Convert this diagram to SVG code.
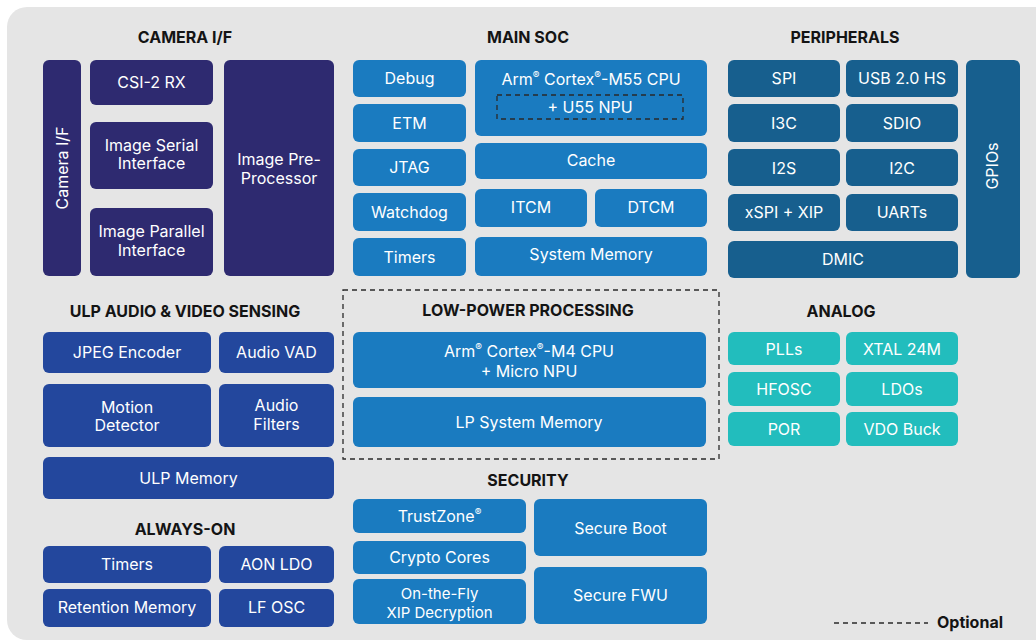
<svg xmlns="http://www.w3.org/2000/svg" width="1036" height="642" viewBox="0 0 1036 642">
<style>
.bx{rx:6px;ry:6px}
.cam{fill:#2e2a70}
.soc{fill:#1a7bc0}
.per{fill:#175f8e}
.ulp{fill:#23479d}
.ana{fill:#22bdbd}
.t{font-family:Inter,"Liberation Sans",sans-serif;font-size:16px;fill:#ffffff;text-anchor:middle}
.s{font-size:15px}
.h{font-family:Inter,"Liberation Sans",sans-serif;font-size:16px;font-weight:700;fill:#141414;text-anchor:middle}
.sup{font-size:10px;baseline-shift:super}
.dash{fill:none;stroke:#2a2a2a;stroke-width:1.3;stroke-dasharray:5 4}
</style>
<rect x="7" y="7" width="1060" height="633" rx="20" fill="#e5e5e5"/>

<text class="h" x="185" y="43">CAMERA I/F</text>
<text class="h" x="528" y="43">MAIN SOC</text>
<text class="h" x="845" y="43">PERIPHERALS</text>
<text class="h" x="185" y="317">ULP AUDIO &amp; VIDEO SENSING</text>
<text class="h" x="528" y="316">LOW-POWER PROCESSING</text>
<text class="h" x="841" y="317">ANALOG</text>
<text class="h" x="528" y="486">SECURITY</text>
<text class="h" x="185" y="535">ALWAYS-ON</text>

<g id="camera-if"><rect class="bx cam" x="43" y="60" width="38" height="216"/><text class="t" transform="translate(68,168) rotate(-90)">Camera I/F</text></g>
<g id="csi2rx"><rect class="bx cam" x="90" y="60" width="123" height="45"/><text class="t" x="151.5" y="88">CSI-2 RX</text></g>
<g id="image-serial"><rect class="bx cam" x="90" y="122" width="123" height="67"/><text class="t" x="151.5" y="151">Image Serial</text><text class="t" x="151.5" y="169">Interface</text></g>
<g id="image-parallel"><rect class="bx cam" x="90" y="208" width="123" height="68"/><text class="t" x="151.5" y="237">Image Parallel</text><text class="t" x="151.5" y="256">Interface</text></g>
<g id="image-preproc"><rect class="bx cam" x="224" y="60" width="110" height="216"/><text class="t" x="279" y="165">Image Pre-</text><text class="t" x="279" y="184">Processor</text></g>

<g id="debug"><rect class="bx soc" x="353" y="60" width="113" height="37"/><text class="t" x="409.5" y="84">Debug</text></g>
<g id="etm"><rect class="bx soc" x="353" y="104" width="113" height="38"/><text class="t" x="409.5" y="129">ETM</text></g>
<g id="jtag"><rect class="bx soc" x="353" y="149" width="113" height="37"/><text class="t" x="409.5" y="173">JTAG</text></g>
<g id="watchdog"><rect class="bx soc" x="353" y="193" width="113" height="38"/><text class="t" x="409.5" y="218">Watchdog</text></g>
<g id="timers-soc"><rect class="bx soc" x="353" y="238" width="113" height="38"/><text class="t" x="409.5" y="263">Timers</text></g>
<g id="m55"><rect class="bx soc" x="475" y="60" width="232" height="76"/><text class="t" x="591" y="85">Arm<tspan class="sup">®</tspan> Cortex<tspan class="sup">®</tspan>-M55 CPU</text><rect class="dash" x="497" y="95" width="186" height="24"/><text class="t" x="590" y="113">+ U55 NPU</text></g>
<g id="cache"><rect class="bx soc" x="475" y="143" width="232" height="36"/><text class="t" x="591" y="166">Cache</text></g>
<g id="itcm"><rect class="bx soc" x="475" y="189" width="112" height="38"/><text class="t" x="531" y="213">ITCM</text></g>
<g id="dtcm"><rect class="bx soc" x="595" y="189" width="112" height="38"/><text class="t" x="651" y="213">DTCM</text></g>
<g id="sysmem"><rect class="bx soc" x="475" y="237" width="232" height="39"/><text class="t" x="591" y="260">System Memory</text></g>

<g id="spi"><rect class="bx per" x="728" y="60" width="112" height="37"/><text class="t" x="784" y="84">SPI</text></g>
<g id="usb"><rect class="bx per" x="846" y="60" width="112" height="37"/><text class="t" x="902" y="84">USB 2.0 HS</text></g>
<g id="i3c"><rect class="bx per" x="728" y="104" width="112" height="38"/><text class="t" x="784" y="129">I3C</text></g>
<g id="sdio"><rect class="bx per" x="846" y="104" width="112" height="38"/><text class="t" x="902" y="129">SDIO</text></g>
<g id="i2s"><rect class="bx per" x="728" y="149" width="112" height="37"/><text class="t" x="784" y="174">I2S</text></g>
<g id="i2c"><rect class="bx per" x="846" y="149" width="112" height="37"/><text class="t" x="902" y="174">I2C</text></g>
<g id="xspi"><rect class="bx per" x="728" y="194" width="112" height="37"/><text class="t" x="784" y="218">xSPI + XIP</text></g>
<g id="uarts"><rect class="bx per" x="846" y="194" width="112" height="37"/><text class="t" x="902" y="218">UARTs</text></g>
<g id="dmic"><rect class="bx per" x="728" y="241" width="230" height="37"/><text class="t" x="843" y="265">DMIC</text></g>
<g id="gpios"><rect class="bx per" x="966" y="60" width="54" height="218"/><text class="t" transform="translate(998,166) rotate(-90)">GPIOs</text></g>

<g id="jpeg"><rect class="bx ulp" x="43" y="332" width="168" height="41"/><text class="t" x="127" y="358">JPEG Encoder</text></g>
<g id="audio-vad"><rect class="bx ulp" x="219" y="332" width="115" height="41"/><text class="t" x="276.5" y="358">Audio VAD</text></g>
<g id="motion"><rect class="bx ulp" x="43" y="384" width="168" height="63"/><text class="t" x="127" y="413">Motion</text><text class="t" x="127" y="431">Detector</text></g>
<g id="audio-filters"><rect class="bx ulp" x="219" y="384" width="115" height="63"/><text class="t" x="276.5" y="411">Audio</text><text class="t" x="276.5" y="430">Filters</text></g>
<g id="ulp-mem"><rect class="bx ulp" x="43" y="457" width="291" height="42"/><text class="t" x="188.5" y="484">ULP Memory</text></g>

<g id="aon-timers"><rect class="bx ulp" x="43" y="546" width="168" height="37"/><text class="t" x="127" y="570">Timers</text></g>
<g id="aon-ldo"><rect class="bx ulp" x="219" y="546" width="115" height="37"/><text class="t" x="276.5" y="570">AON LDO</text></g>
<g id="retention"><rect class="bx ulp" x="43" y="589" width="168" height="38"/><text class="t" x="127" y="613">Retention Memory</text></g>
<g id="lf-osc"><rect class="bx ulp" x="219" y="589" width="115" height="38"/><text class="t" x="276.5" y="613">LF OSC</text></g>

<g id="low-power"><rect class="dash" x="343" y="290" width="376" height="169"/></g>
<g id="m4"><rect class="bx soc" x="353" y="332" width="353" height="56"/><text class="t" x="529" y="357">Arm<tspan class="sup">®</tspan> Cortex<tspan class="sup">®</tspan>-M4 CPU</text><text class="t" x="529" y="377">+ Micro NPU</text></g>
<g id="lp-mem"><rect class="bx soc" x="353" y="397" width="353" height="50"/><text class="t" x="529" y="428">LP System Memory</text></g>

<g id="trustzone"><rect class="bx soc" x="353" y="499" width="173" height="34"/><text class="t" x="439.5" y="522">TrustZone<tspan class="sup">®</tspan></text></g>
<g id="crypto"><rect class="bx soc" x="353" y="541" width="173" height="33"/><text class="t" x="439.5" y="563">Crypto Cores</text></g>
<g id="otf"><rect class="bx soc" x="353" y="579" width="173" height="45"/><text class="t s" x="439.5" y="599">On-the-Fly</text><text class="t s" x="439.5" y="618">XIP Decryption</text></g>
<g id="secure-boot"><rect class="bx soc" x="534" y="499" width="173" height="57"/><text class="t" x="620.5" y="534">Secure Boot</text></g>
<g id="secure-fwu"><rect class="bx soc" x="534" y="567" width="173" height="57"/><text class="t" x="620.5" y="601">Secure FWU</text></g>

<g id="plls"><rect class="bx ana" x="728" y="332" width="112" height="33"/><text class="t" x="784" y="355">PLLs</text></g>
<g id="xtal"><rect class="bx ana" x="846" y="332" width="112" height="33"/><text class="t" x="902" y="355">XTAL 24M</text></g>
<g id="hfosc"><rect class="bx ana" x="728" y="372" width="112" height="34"/><text class="t" x="784" y="395">HFOSC</text></g>
<g id="ldos"><rect class="bx ana" x="846" y="372" width="112" height="34"/><text class="t" x="902" y="395">LDOs</text></g>
<g id="por"><rect class="bx ana" x="728" y="412" width="112" height="34"/><text class="t" x="784" y="435">POR</text></g>
<g id="vdo"><rect class="bx ana" x="846" y="412" width="112" height="34"/><text class="t" x="902" y="435">VDO Buck</text></g>

<g id="connectors"></g>

<g id="legend"><line class="dash" x1="834" y1="623" x2="928" y2="623"/><text class="h" x="937" y="628" style="text-anchor:start">Optional</text></g>
</svg>
